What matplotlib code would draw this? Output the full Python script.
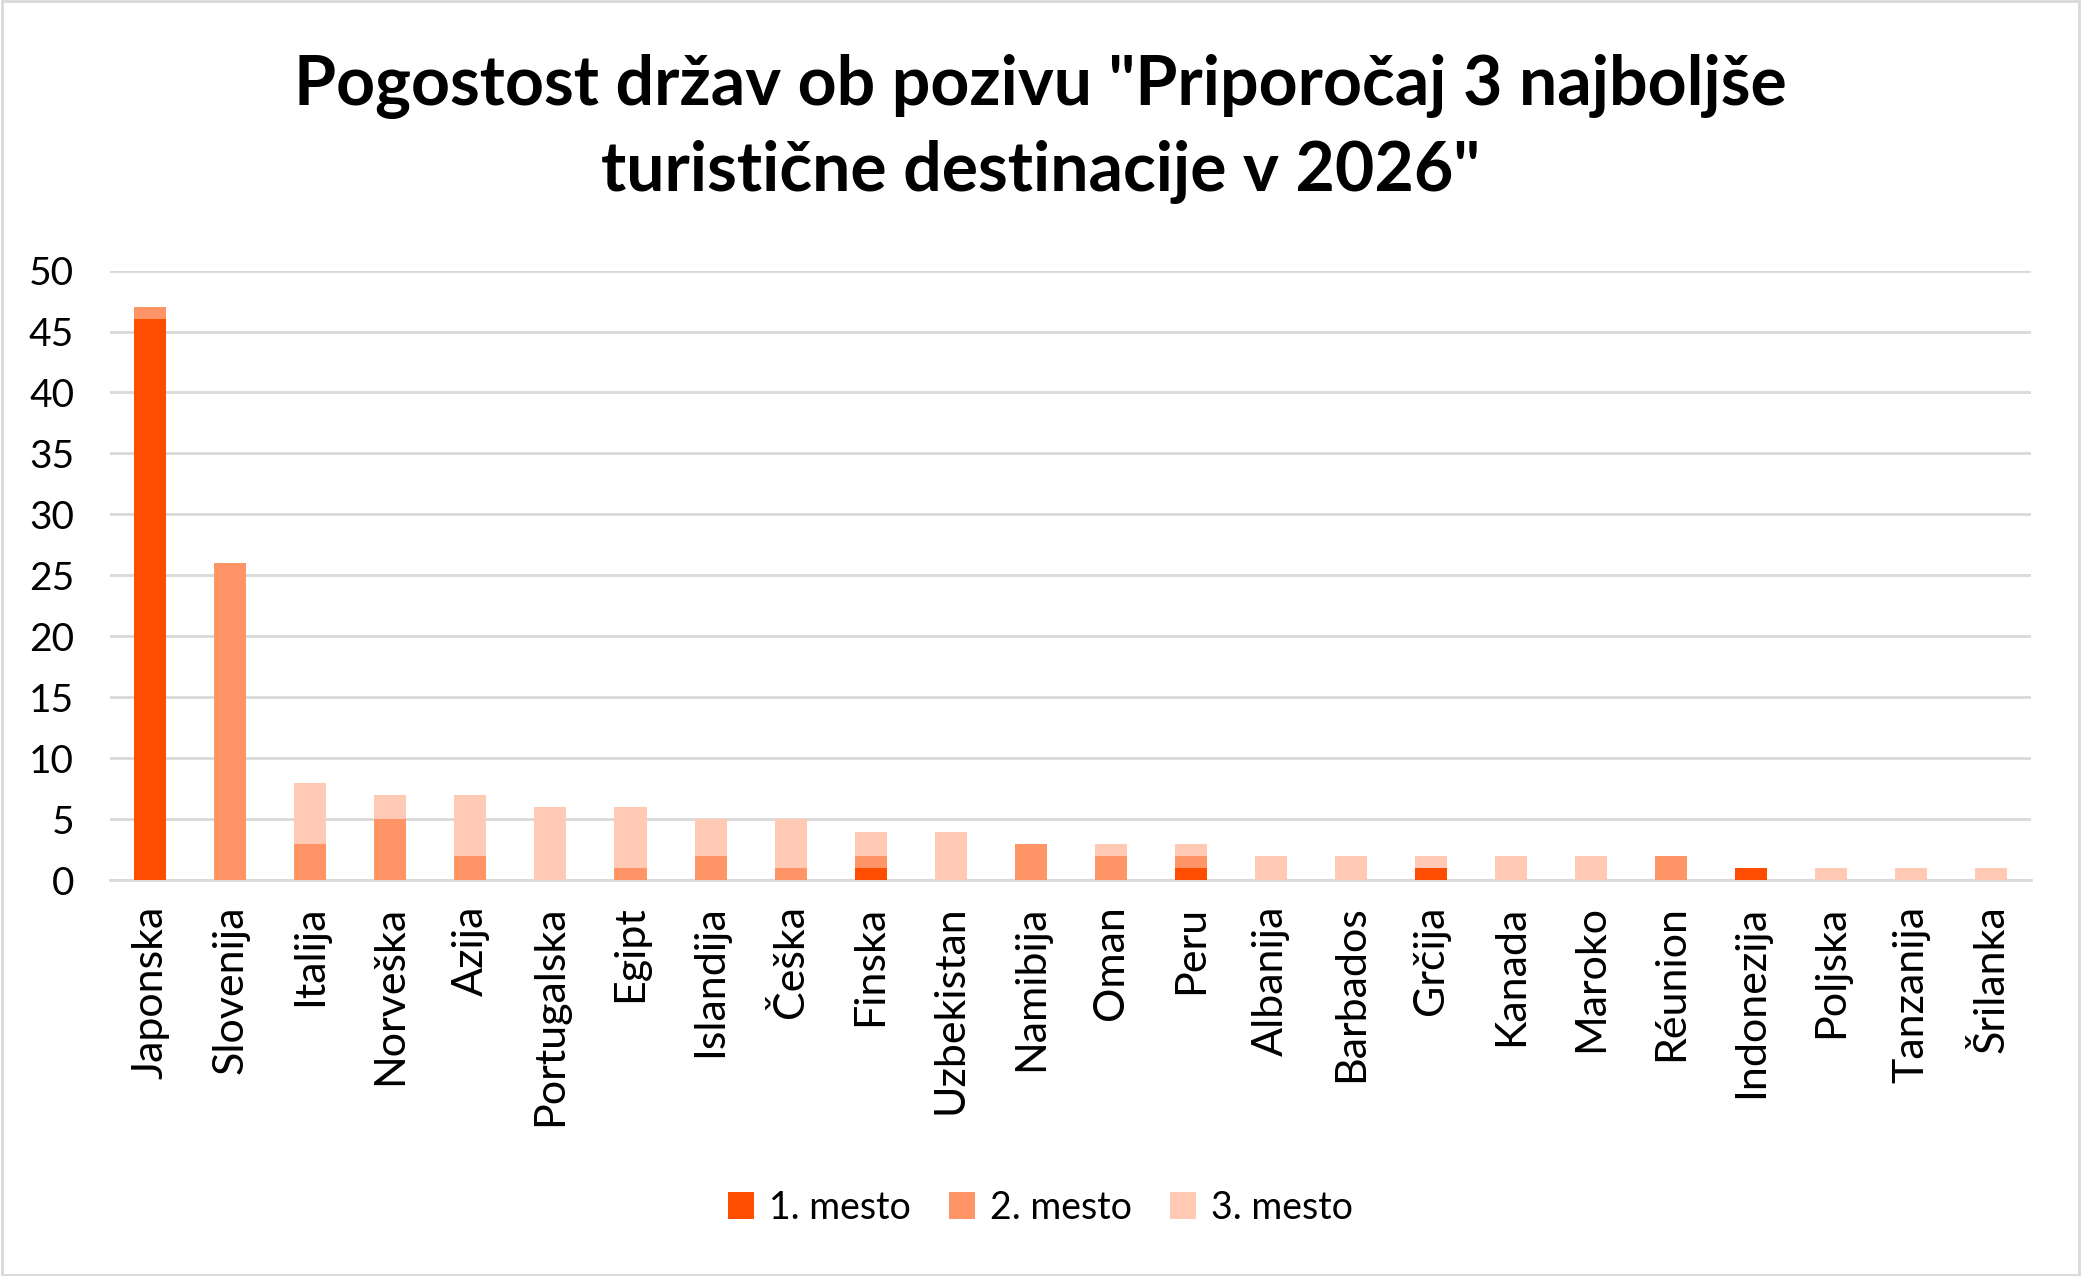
import matplotlib
matplotlib.use('Agg')
import numpy as np
from matplotlib import pyplot as plt
from matplotlib.patches import Rectangle

plt.rcParams['font.family'] = ['Lato', 'DejaVu Sans']

countries = ['Japonska', 'Slovenija', 'Italija', 'Norveška', 'Azija', 'Portugalska', 'Egipt',
             'Islandija', 'Češka', 'Finska', 'Uzbekistan', 'Namibija', 'Oman', 'Peru', 'Albanija',
             'Barbados', 'Grčija', 'Kanada', 'Maroko', 'Réunion', 'Indonezija', 'Poljska',
             'Tanzanija', 'Šrilanka']
first_place = [46, 0, 0, 0, 0, 0, 0, 0, 0, 1, 0, 0, 0, 1, 0, 0, 1, 0, 0, 0, 1, 0, 0, 0]
second_place = [1, 26, 3, 5, 2, 0, 1, 2, 1, 1, 0, 3, 2, 1, 0, 0, 0, 0, 0, 2, 0, 0, 0, 0]
third_place = [0, 0, 5, 2, 5, 6, 5, 3, 4, 2, 4, 0, 1, 1, 2, 2, 1, 2, 2, 0, 0, 1, 1, 1]
series_names = ['1. mesto', '2. mesto', '3. mesto']
colors = ['#FF4D00', '#FF9466', '#FFC9B3']

fig = plt.figure(figsize=(20.81, 12.76), dpi=100)
ax = fig.add_axes([0.053, 0.310, 0.923, 0.478])

x = np.arange(len(countries))
bottom = np.zeros(len(countries))
for values, name, color in zip([first_place, second_place, third_place], series_names, colors):
    ax.bar(x, values, width=0.4, bottom=bottom, color=color, label=name, zorder=3)
    bottom += np.array(values)

ax.set_xlim(-0.5, len(countries) - 0.5)
ax.set_ylim(0, 50)
ax.set_yticks(range(0, 51, 5))
ax.yaxis.grid(True, color='#D9D9D9', linewidth=2, zorder=0)
ax.set_xticks(x)
ax.set_xticklabels(countries, rotation=90, fontsize=31)
ax.tick_params(axis='y', labelsize=28, length=0, pad=26)
ax.tick_params(axis='x', length=0, pad=18)
for side in ['top', 'right', 'left']:
    ax.spines[side].set_visible(False)
ax.spines['bottom'].set_color('#D9D9D9')
ax.spines['bottom'].set_linewidth(2)

fig.suptitle('Pogostost držav ob pozivu "Priporočaj 3 najboljše\nturistične destinacije v 2026"',
             fontsize=49, fontweight='bold', y=0.958, linespacing=1.42)

fig.legend(loc='lower center', bbox_to_anchor=(0.5, 0.013), ncol=3, frameon=False,
           fontsize=27, handlelength=0.7, handleheight=0.7, columnspacing=1.0, handletextpad=0.4)

fig.patches.append(Rectangle((0.001, 0.001), 0.998, 0.998, transform=fig.transFigure,
                             fill=False, edgecolor='#D9D9D9', linewidth=2))

fig.savefig('out.png', dpi=100)
